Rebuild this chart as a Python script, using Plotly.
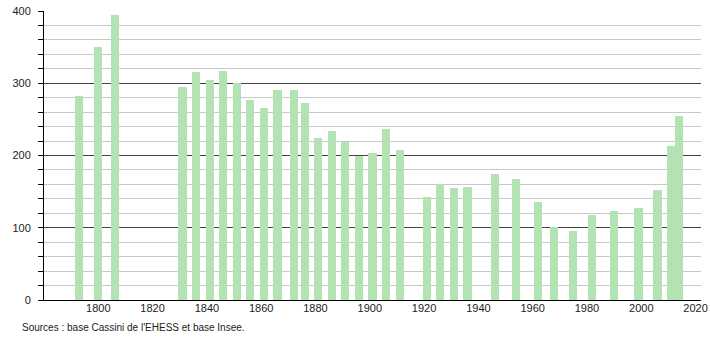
import plotly.graph_objects as go

years = [1793, 1800, 1806, 1831, 1836, 1841, 1846, 1851, 1856, 1861, 1866, 1872,
         1876, 1881, 1886, 1891, 1896, 1901, 1906, 1911, 1921, 1926, 1931, 1936,
         1946, 1954, 1962, 1968, 1975, 1982, 1990, 1999, 2006, 2011, 2014]
population = [283, 350, 394, 295, 316, 304, 317, 300, 277, 266, 291, 291,
              273, 224, 234, 219, 199, 203, 237, 207, 143, 160, 155, 156,
              174, 167, 136, 101, 95, 117, 123, 127, 152, 213, 254]
x_ticks = [1800, 1820, 1840, 1860, 1880, 1900, 1920, 1940, 1960, 1980, 2000, 2020]
y_ticks = [0, 100, 200, 300, 400]
source_text = "Sources : base Cassini de l'EHESS et base Insee."

W, H = 710, 340
L, R, T, B = 44, 9, 11, 40
pw, ph = W - L - R, H - T - B

fig = go.Figure(go.Bar(
    x=years, y=population, width=3,
    marker=dict(color="#b3e3b3", line=dict(width=0)),
    hoverinfo="x+y",
))

font = dict(family="Liberation Sans, Arial, sans-serif", size=11, color="#222")

fig.update_layout(
    width=W, height=H,
    margin=dict(l=L, r=R, t=T, b=B, pad=0, autoexpand=False),
    paper_bgcolor="white", plot_bgcolor="white",
    showlegend=False,
    font=font,
    bargap=0,
    xaxis=dict(
        range=[1780, 2022], tickvals=x_ticks, ticktext=[str(v) for v in x_ticks],
        showgrid=False, zeroline=False, showline=True, linecolor="black", linewidth=1,
        ticks="", ticklen=0, tickfont=font, automargin=False, ticklabelstandoff=-2,
    ),
    yaxis=dict(
        range=[0, 400], tickvals=y_ticks, ticktext=[str(v) for v in y_ticks],
        showgrid=True, gridcolor="#444", gridwidth=1,
        zeroline=False, showline=True, linecolor="black", linewidth=1,
        ticks="outside", ticklen=5, tickcolor="black", tickwidth=1,
        tickfont=font, automargin=False, ticklabelstandoff=5,
        minor=dict(dtick=20, tick0=0, showgrid=True, gridcolor="#c8c8c8", gridwidth=1,
                   ticks="outside", ticklen=5, tickcolor="black", tickwidth=1),
        layer="below traces",
    ),
    annotations=[dict(
        text=source_text, xref="paper", yref="paper",
        x=(20 - L) / pw, y=-(327 - (H - B)) / ph,
        xanchor="left", yanchor="middle", showarrow=False,
        font=dict(family="Liberation Sans, Arial, sans-serif", size=10, color="#222"),
    )],
)

fig.write_html("out.html")
